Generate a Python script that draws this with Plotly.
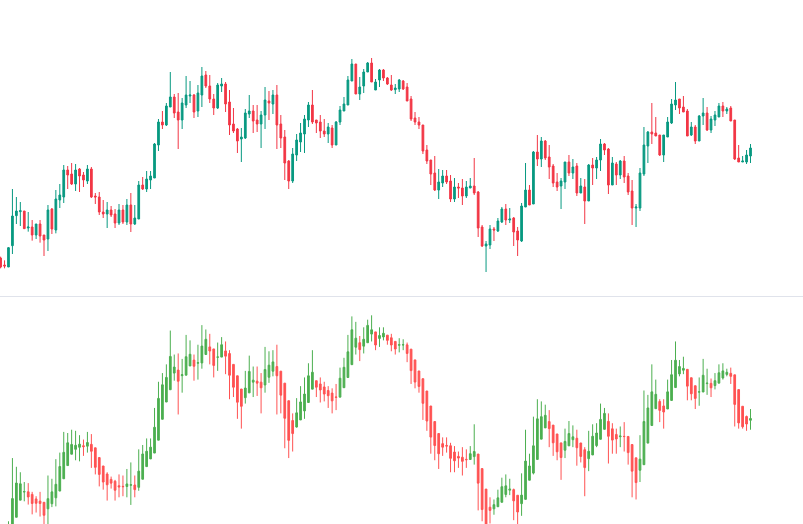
import plotly.graph_objects as go

opens = [29.1,27.0,26.4,32.8,41.8,43.0,43.2,38.1,38.4,36.0,39.3,36.0,34.8,43.8,37.5,46.5,47.4,55.5,54.3,51.3,
55.8,54.0,52.2,55.8,47.7,47.4,42.9,42.3,43.5,42.3,39.6,43.5,39.9,45.0,39.3,40.8,51.0,49.8,52.5,53.1,
63.0,69.9,69.0,74.4,77.4,72.9,70.5,75.0,77.7,78.0,73.2,78.0,84.0,80.7,76.8,74.1,80.7,81.3,75.9,69.3,
67.8,64.8,65.1,72.3,73.2,70.5,69.3,72.0,76.2,75.3,78.0,69.3,65.4,58.2,52.2,60.0,63.9,66.3,70.5,75.0,
70.5,69.9,67.2,66.3,68.1,63.0,69.9,73.2,75.0,82.2,87.3,78.3,80.7,84.9,87.6,79.5,82.5,85.5,83.1,81.0,
79.6,79.8,82.2,80.4,76.8,71.1,69.9,69.0,61.5,58.5,54.6,49.5,51.6,53.7,52.2,46.8,50.4,50.1,47.7,50.1,
50.7,48.9,38.4,32.7,33.0,37.8,37.2,39.9,43.8,40.5,41.1,37.2,34.2,44.4,49.5,45.3,60.9,58.8,64.2,59.4,
56.7,51.9,50.7,51.9,57.9,54.6,56.7,48.6,50.4,46.2,57.0,56.1,58.5,63.3,61.8,51.0,57.3,54.0,58.2,53.7,
49.2,44.1,44.1,54.3,62.7,66.9,66.6,66.0,60.0,65.4,69.6,75.0,76.8,74.4,73.2,66.0,68.4,64.2,71.7,72.6,
67.5,70.5,71.4,74.7,73.2,74.1,70.5,59.1,57.9,57.9,59.7]
highs = [29.5,28.4,32.4,49.8,47.4,45.9,43.2,42.9,40.5,39.3,40.5,36.0,45.0,44.1,49.5,51.3,57.0,56.7,57.6,57.3,
56.1,54.9,57.0,56.4,48.6,48.9,46.5,45.9,44.7,43.8,45.3,45.0,46.8,48.6,45.0,52.2,53.4,55.2,55.2,63.6,
70.8,73.2,75.6,84.9,78.3,78.6,77.1,83.7,82.2,78.3,81.0,86.4,85.2,84.0,78.3,81.6,83.1,81.9,79.5,74.1,
68.1,68.1,73.8,78.0,75.0,75.0,73.2,80.4,79.2,79.5,81.0,72.0,67.5,58.5,62.1,66.3,69.6,72.0,75.9,79.5,
70.5,72.0,70.8,69.6,69.0,70.2,74.7,77.4,83.7,88.8,87.3,83.4,85.8,87.9,89.1,82.8,85.8,85.8,83.4,84.0,
81.3,82.8,82.5,81.6,77.7,72.9,71.4,69.0,63.0,58.5,59.7,55.8,55.5,55.5,54.0,53.1,51.6,52.8,52.2,53.1,
59.1,49.2,39.0,34.2,39.0,38.4,41.1,44.4,45.3,44.1,41.4,38.4,45.6,57.6,51.0,61.2,66.0,65.4,64.5,63.0,
57.3,54.6,53.1,57.9,60.0,58.8,57.6,53.1,52.8,57.3,59.1,59.4,64.8,63.6,62.1,59.4,57.9,58.5,59.7,54.6,
52.5,45.3,56.1,68.4,67.2,75.6,71.4,66.0,66.0,71.4,76.8,81.9,76.8,77.7,73.8,69.9,69.0,72.0,77.1,74.4,
71.7,73.2,75.6,75.9,74.4,74.7,70.5,63.0,59.7,61.5,63.3]
lows = [26.0,26.0,26.4,30.3,39.3,38.7,37.9,37.0,34.3,34.8,33.7,29.7,31.2,36.3,36.5,44.1,45.6,49.8,51.0,49.2,
48.9,50.4,51.3,47.1,45.3,42.0,41.1,38.1,41.4,38.1,39.0,39.3,39.0,36.9,39.0,40.8,49.5,48.9,49.8,53.1,
61.2,67.8,68.7,74.4,71.1,61.8,67.8,74.1,75.6,71.1,71.4,74.4,80.1,75.6,72.0,73.8,78.9,72.9,66.0,66.6,
60.6,57.9,64.8,71.1,66.6,66.9,62.1,67.8,70.5,72.3,61.8,62.1,52.5,49.8,51.6,58.2,60.9,60.6,68.4,69.3,
66.6,65.1,65.4,63.6,62.1,63.0,69.0,73.2,75.0,82.2,78.3,76.5,78.6,84.9,81.9,79.5,80.4,82.2,81.0,79.2,
78.3,78.9,79.5,76.2,70.2,69.0,67.8,60.3,57.3,51.0,49.2,46.8,50.4,51.3,45.9,45.9,47.1,45.0,47.1,50.1,
48.0,35.4,32.4,24.9,31.8,34.2,36.9,39.6,39.0,39.6,32.7,29.7,33.9,44.4,45.0,45.3,56.7,56.4,58.5,52.8,
50.4,49.2,43.8,49.8,53.7,52.8,47.7,48.6,39.3,46.2,51.0,52.8,55.2,60.0,48.3,51.0,51.0,52.8,51.6,48.0,
39.0,38.4,43.2,53.7,57.6,63.3,65.7,59.7,57.9,65.4,69.3,73.5,72.3,72.9,65.7,65.7,63.3,64.2,69.0,67.2,
66.6,68.7,71.4,71.4,72.3,70.2,58.5,57.9,57.9,57.3,57.6]
closes = [26.4,26.7,32.2,41.7,43.2,43.3,37.9,38.4,36.0,39.3,35.7,34.5,43.5,37.8,46.8,48.0,55.5,54.0,51.3,55.5,
53.7,52.5,55.8,47.4,47.4,42.9,42.3,43.5,42.0,39.6,43.5,39.9,45.0,39.3,41.1,51.0,49.8,52.8,53.7,63.3,
69.9,69.0,74.7,77.4,72.6,70.5,75.6,78.0,78.0,72.9,78.6,83.7,80.7,76.8,74.1,81.0,81.3,75.3,69.0,67.2,
64.2,65.4,72.6,73.2,70.2,69.3,72.0,76.5,75.6,78.0,69.0,65.1,57.6,52.2,60.3,64.5,66.6,70.8,75.0,69.9,
69.6,67.2,66.3,68.4,63.0,69.9,73.5,75.3,82.5,87.3,78.3,80.4,84.9,87.6,81.9,81.9,85.5,83.1,81.3,79.5,
80.1,82.5,79.8,76.2,70.8,69.9,69.0,61.2,58.2,54.3,49.5,51.9,53.7,51.9,46.8,50.4,50.1,47.7,50.4,50.7,
48.6,38.1,32.7,33.3,37.8,37.5,40.2,43.8,40.5,40.8,36.9,34.5,44.7,49.5,45.0,60.9,58.8,64.2,59.1,56.4,
51.6,50.4,52.2,57.9,54.6,56.4,48.6,50.7,46.2,57.0,56.1,58.5,63.3,61.5,51.0,57.6,54.0,58.2,53.4,48.9,
44.1,44.4,54.6,63.0,66.9,66.3,65.7,60.0,66.0,69.9,75.3,76.5,74.1,72.9,65.7,68.4,64.2,71.7,72.6,67.5,
70.8,72.0,74.7,73.2,73.8,70.2,58.8,57.9,58.2,60.0,62.1]

idx = list(range(len(opens)))

# Heikin-Ashi candles derived from the OHLC series (lower pane)
ha_o, ha_c, ha_h, ha_l = [], [], [], []
for i in idx:
    c = (opens[i] + highs[i] + lows[i] + closes[i]) / 4
    o = (opens[i] + closes[i]) / 2 if i == 0 else (ha_o[-1] + ha_c[-1]) / 2
    ha_o.append(o)
    ha_c.append(c)
    ha_h.append(max(highs[i], o, c))
    ha_l.append(min(lows[i], o, c))

fig = go.Figure()
fig.add_trace(go.Candlestick(
    x=idx, open=opens, high=highs, low=lows, close=closes,
    increasing=dict(line=dict(color="#089981", width=1), fillcolor="#089981"),
    decreasing=dict(line=dict(color="#F23645", width=1), fillcolor="#F23645"),
    whiskerwidth=0, xaxis="x", yaxis="y", hoverinfo="skip", showlegend=False))
fig.add_trace(go.Candlestick(
    x=idx, open=ha_o, high=ha_h, low=ha_l, close=ha_c,
    increasing=dict(line=dict(color="#4CAF50", width=1), fillcolor="#4CAF50"),
    decreasing=dict(line=dict(color="#FF5252", width=1), fillcolor="#FF5252"),
    whiskerwidth=0, xaxis="x2", yaxis="y2", hoverinfo="skip", showlegend=False))

H = 524.0
ax = dict(visible=False, showgrid=False, zeroline=False, fixedrange=True)
fig.update_layout(
    width=803, height=524, margin=dict(l=0, r=0, t=0, b=0),
    paper_bgcolor="white", plot_bgcolor="white", boxgap=0.38,
    xaxis=dict(ax, range=[-0.15, 203.3], domain=[0, 1], rangeslider=dict(visible=False), anchor="y"),
    xaxis2=dict(ax, range=[-0.15, 203.3], domain=[0, 1], rangeslider=dict(visible=False), anchor="y2"),
    yaxis=dict(ax, range=[17.7, 106.5], domain=[1 - 296 / H, 1], anchor="x"),
    yaxis2=dict(ax, range=[31.65, 94.14], domain=[0, 1 - 297 / H], anchor="x2"),
    shapes=[dict(type="line", xref="paper", yref="paper", x0=0, x1=1,
                 y0=1 - 296.5 / H, y1=1 - 296.5 / H,
                 line=dict(color="#E0E3EB", width=1))],
    showlegend=False,
)

fig.write_html("out.html", config={"displayModeBar": False, "staticPlot": True},
               post_script="document.body.style.margin='0';document.body.style.overflow='hidden';")
